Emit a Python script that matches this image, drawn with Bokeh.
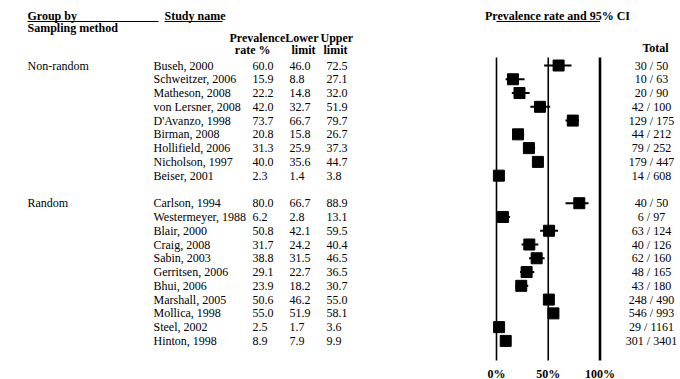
from bokeh.plotting import figure
from bokeh.models import Range1d
from bokeh.core.properties import value
from bokeh.embed import file_html
from bokeh.resources import INLINE

# ---- data -------------------------------------------------------------
nonrandom_studies = ["Buseh, 2000", "Schweitzer, 2006", "Matheson, 2008",
                     "von Lersner, 2008", "D'Avanzo, 1998", "Birman, 2008",
                     "Hollifield, 2006", "Nicholson, 1997", "Beiser, 2001"]
nonrandom_rate = [60.0, 15.9, 22.2, 42.0, 73.7, 20.8, 31.3, 40.0, 2.3]
nonrandom_lower = [46.0, 8.8, 14.8, 32.7, 66.7, 15.8, 25.9, 35.6, 1.4]
nonrandom_upper = [72.5, 27.1, 32.0, 51.9, 79.7, 26.7, 37.3, 44.7, 3.8]
nonrandom_events = [30, 10, 20, 42, 129, 44, 79, 179, 14]
nonrandom_n = [50, 63, 90, 100, 175, 212, 252, 447, 608]

random_studies = ["Carlson, 1994", "Westermeyer, 1988", "Blair, 2000",
                  "Craig, 2008", "Sabin, 2003", "Gerritsen, 2006",
                  "Bhui, 2006", "Marshall, 2005", "Mollica, 1998",
                  "Steel, 2002", "Hinton, 1998"]
random_rate = [80.0, 6.2, 50.8, 31.7, 38.8, 29.1, 23.9, 50.6, 55.0, 2.5, 8.9]
random_lower = [66.7, 2.8, 42.1, 24.2, 31.5, 22.7, 18.2, 46.2, 51.9, 1.7, 7.9]
random_upper = [88.9, 13.1, 59.5, 40.4, 46.5, 36.5, 30.7, 55.0, 58.1, 3.6, 9.9]
random_events = [40, 6, 63, 40, 62, 48, 43, 248, 546, 29, 301]
random_n = [50, 97, 124, 126, 160, 165, 180, 490, 993, 1161, 3401]

group_names = ["Non-random", "Random"]
axis_ticks = [0, 50, 100]
axis_tick_labels = ["0%", "50%", "100%"]

# ---- layout -----------------------------------------------------------
W, H = 680, 379
FONT = value("Liberation Serif")
FS = "12px"
ROW0, ROW_STEP = 65.0, 13.77
PX0, PX_PER_PCT = 496.0, 1.035          # where 0% sits and px per percent
pct_start = -PX0 / PX_PER_PCT
pct_end = pct_start + W / PX_PER_PCT

groups = [
    (group_names[0], nonrandom_studies, nonrandom_rate, nonrandom_lower,
     nonrandom_upper, nonrandom_events, nonrandom_n),
    (group_names[1], random_studies, random_rate, random_lower,
     random_upper, random_events, random_n),
]

names, rates, lows, ups, totals, ys = [], [], [], [], [], []
group_label_y = []
row = 0
for gname, st, r, lo, up, ev, n in groups:
    group_label_y.append(ROW0 + row * ROW_STEP)
    for i in range(len(st)):
        names.append(st[i])
        rates.append(r[i])
        lows.append(lo[i])
        ups.append(up[i])
        totals.append(f"{ev[i]} / {n[i]}")
        ys.append(ROW0 + row * ROW_STEP)
        row += 1
    row += 1  # blank line between groups

p = figure(width=W, height=H, x_range=Range1d(0, W), y_range=Range1d(H, 0),
           output_backend="svg", toolbar_location=None, min_border=0,
           x_axis_location=None, y_axis_location=None)
p.grid.visible = False
p.outline_line_color = None
p.background_fill_color = "white"
p.extra_x_ranges = {"pct": Range1d(pct_start, pct_end)}


def txt(x, y, t, align="left", bold=False, x_range_name="default"):
    p.text(x=x, y=y, text=t, text_font=FONT, text_font_size=FS,
           text_align=align, text_baseline="middle", text_color="black",
           text_font_style="bold" if bold else "normal",
           x_range_name=x_range_name)


# headers
txt([27], [15], ["Group by"], bold=True)
txt([27], [27], ["Sampling method"], bold=True)
txt([164], [15], ["Study name"], bold=True)
txt([229], [37], ["Prevalence"], bold=True)
txt([270], [49], ["rate %"], align="right", bold=True)
txt([318], [37], ["Lower"], align="right", bold=True)
txt([315], [49], ["limit"], align="right", bold=True)
txt([320], [37], ["Upper"], bold=True)
txt([347], [49], ["limit"], align="right", bold=True)
txt([557], [15], ["Prevalence rate and 95% CI"], align="center", bold=True)
txt([655], [47], ["Total"], align="center", bold=True)

# header underlines
p.segment(x0=[27, 164], x1=[158, 222], y0=[21, 21], y1=[21, 21],
          line_color="black", line_width=1)
p.segment(x0=[0], x1=[100], y0=[21], y1=[21], line_color="black",
          line_width=1, x_range_name="pct")

# table body
txt([27] * len(group_names), group_label_y, group_names)
txt([153] * len(names), ys, names)
txt([252] * len(names), ys, [f"{v:.1f}" for v in rates])
txt([289] * len(names), ys, [f"{v:.1f}" for v in lows])
txt([326] * len(names), ys, [f"{v:.1f}" for v in ups])
txt([651] * len(names), ys, totals, align="center")

# reference lines at 0%, 50%, 100%
p.segment(x0=axis_ticks[:2], x1=axis_ticks[:2], y0=[57, 57], y1=[360, 360],
          line_color="black", line_width=1.6, x_range_name="pct")
p.segment(x0=axis_ticks[2:], x1=axis_ticks[2:], y0=[57], y1=[360],
          line_color="black", line_width=2.6, x_range_name="pct")

# confidence intervals and point estimates
p.segment(x0=lows, x1=ups, y0=ys, y1=ys, line_color="black", line_width=2,
          x_range_name="pct")
p.scatter(x=rates, y=ys, marker="square", size=11, fill_color="black",
          line_color="black", x_range_name="pct")

# scale labels
txt(axis_ticks, [373] * 3, axis_tick_labels, align="center", bold=True,
    x_range_name="pct")

open("out.html", "w").write(file_html(p, INLINE))
